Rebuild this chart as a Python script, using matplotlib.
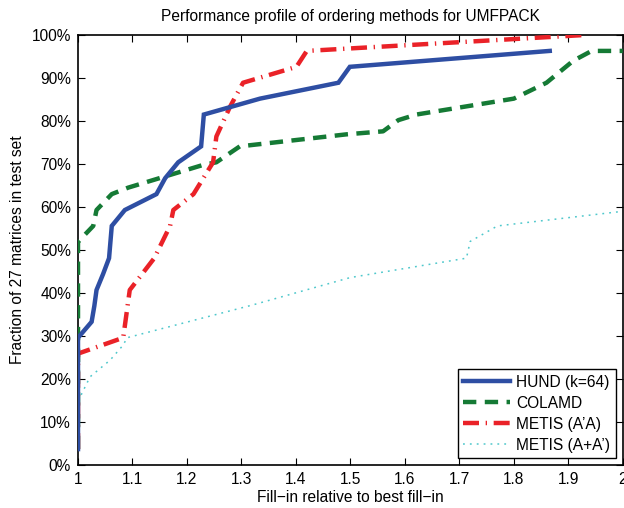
import matplotlib
matplotlib.use("Agg")
import matplotlib.pyplot as plt
from matplotlib.ticker import FuncFormatter

plt.rcParams['font.family'] = ['Liberation Sans', 'DejaVu Sans']

# Data (x = fill-in relative to best, y = fraction of 27 matrices, in %)
hund_x = [1.0, 1.0, 1.025, 1.03, 1.034, 1.046, 1.057, 1.062, 1.086, 1.144, 1.16, 1.184, 1.226, 1.231, 1.334, 1.478, 1.499, 1.866]
hund_y = [3.7, 29.6, 33.3, 37.0, 40.7, 44.4, 48.1, 55.6, 59.3, 63.0, 66.7, 70.4, 74.1, 81.5, 85.2, 88.9, 92.6, 96.3]

colamd_x = [1.0, 1.0, 1.028, 1.034, 1.062, 1.092, 1.23, 1.254, 1.297, 1.493, 1.56, 1.588, 1.621, 1.80, 1.86, 1.909, 1.943, 2.0]
colamd_y = [3.7, 51.9, 55.6, 59.3, 63.0, 64.5, 69.8, 70.4, 74.1, 76.9, 77.6, 80.2, 81.5, 85.2, 88.9, 94.0, 96.3, 96.3]

metis_ata_x = [1.0, 1.0, 1.083, 1.095, 1.14, 1.169, 1.175, 1.212, 1.248, 1.254, 1.279, 1.303, 1.401, 1.42, 1.93]
metis_ata_y = [3.7, 25.9, 29.6, 40.7, 48.1, 55.6, 59.3, 63.0, 70.4, 76.4, 83.3, 88.9, 92.6, 96.3, 100.0]

metis_apat_x = [1.0, 1.0, 1.022, 1.059, 1.083, 1.09, 1.32, 1.5, 1.713, 1.72, 1.77, 2.0]
metis_apat_y = [3.7, 14.8, 20.5, 24.4, 27.9, 29.6, 37.2, 43.6, 48.1, 52.0, 55.6, 59.0]

series_labels = ["HUND (k=64)", "COLAMD", "METIS (A\u2019A)", "METIS (A+A\u2019)"]
x_ticks = [1, 1.1, 1.2, 1.3, 1.4, 1.5, 1.6, 1.7, 1.8, 1.9, 2]
x_tick_labels = ["1", "1.1", "1.2", "1.3", "1.4", "1.5", "1.6", "1.7", "1.8", "1.9", "2"]
y_ticks = [0, 10, 20, 30, 40, 50, 60, 70, 80, 90, 100]

fig = plt.figure(figsize=(6.24, 5.08), dpi=100)
ax = fig.add_axes([0.125, 0.0846, 0.873, 0.8465])

ax.plot(hund_x, hund_y, color='#2e4ea3', lw=3.2, solid_joinstyle='miter', label=series_labels[0], zorder=4)
ax.plot(colamd_x, colamd_y, color='#157a35', lw=3.2, linestyle=(0, (3.0, 1.9)), label=series_labels[1], zorder=3)
ax.plot(metis_ata_x, metis_ata_y, color='#ea2228', lw=3.2, linestyle=(0, (3.6, 1.5, 0.3, 1.5)), label=series_labels[2], zorder=3)
ax.plot(metis_apat_x, metis_apat_y, color='#4fc8cc', lw=1.1, linestyle=(0, (1.2, 3.3)), label=series_labels[3], zorder=2)

ax.set_xlim(1, 2)
ax.set_ylim(0, 100)
ax.set_xticks(x_ticks)
ax.set_xticklabels(x_tick_labels)
ax.set_yticks(y_ticks)
ax.yaxis.set_major_formatter(FuncFormatter(lambda v, p: f"{int(v)}%"))
ax.tick_params(direction='in', top=True, right=True, labelsize=11.2, length=5, width=0.8, pad=5)
for s in ax.spines.values():
    s.set_linewidth(1.2)

ax.set_title("Performance profile of ordering methods for UMFPACK", fontsize=11.2, pad=10)
ax.set_xlabel("Fill\u2212in relative to best fill\u2212in", fontsize=11.2, labelpad=2)
ax.set_ylabel("Fraction of 27 matrices in test set", fontsize=11.2, labelpad=5)

leg = ax.legend(loc='lower right', fontsize=11.2, frameon=True, fancybox=False,
                edgecolor='black', framealpha=1, borderpad=0.35, labelspacing=0.38,
                handlelength=3.0, handletextpad=0.4, borderaxespad=0.45)
leg.get_frame().set_linewidth(1.0)

fig.savefig("out.png", dpi=100)
